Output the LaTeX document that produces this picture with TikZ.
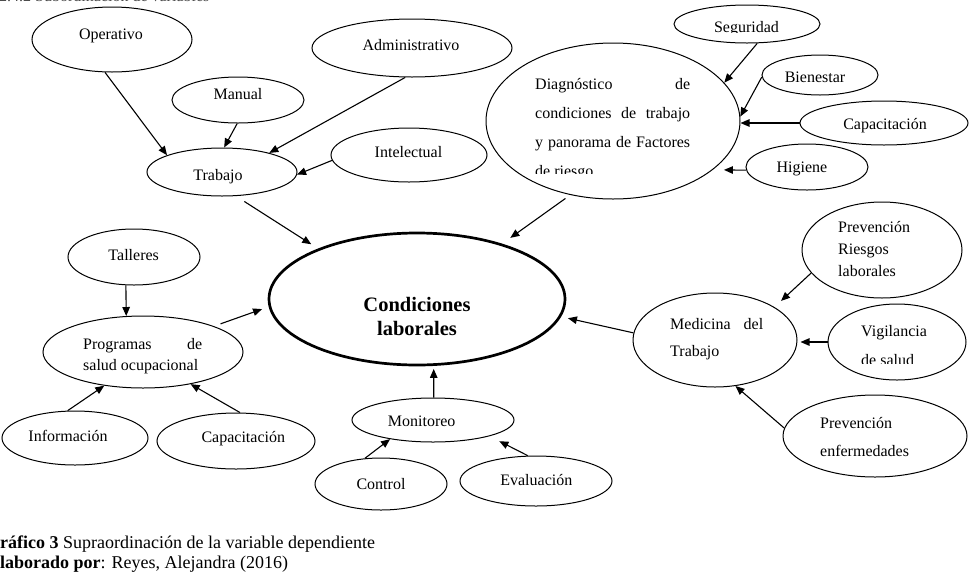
\documentclass[tikz,border=0pt]{standalone}
\usepackage{fontspec}
\setmainfont{Liberation Serif}
\usetikzlibrary{shapes.geometric,arrows.meta}

\tikzset{
  bub/.style={draw, ellipse, line width=1pt, inner sep=0pt},
  core/.style={draw, ellipse, line width=2.7pt, inner sep=0pt},
  lbl/.style={anchor=base, inner sep=0pt, font=\fontsize{16}{19}\selectfont},
  lblw/.style={anchor=base west, inner sep=0pt, font=\fontsize{16}{19}\selectfont},
  capt/.style={anchor=base west, inner sep=0pt, font=\fontsize{18}{20}\selectfont},
  arr/.style={line width=1.1pt, -{Triangle[length=9pt,width=7.5pt]}},
}

\begin{document}
\begin{tikzpicture}[x=1pt,y=-1pt]
\useasboundingbox (0,0) rectangle (969,579);

% heading line above the diagram (only its lowest part lies on the page)
\node[lblw, text=black!70] (head) at (-1,1.8) {2.4.2 Subordinación de variables};

% ---------- bubbles ----------
\node[bub, minimum width=160pt, minimum height=65pt]  (oper)   at (112,39.5) {};
\node[bub, minimum width=200pt, minimum height=58pt]  (admin)  at (412,48) {};
\node[bub, minimum width=132pt, minimum height=46pt]  (manual) at (238,100) {};
\node[bub, minimum width=150pt, minimum height=48pt]  (trab)   at (222,172) {};
\node[bub, minimum width=156pt, minimum height=54pt]  (intel)  at (409,155) {};
\node[bub, minimum width=254pt, minimum height=156pt] (diag)   at (613,121) {};
\node[bub, minimum width=146pt, minimum height=38pt]  (segur)  at (747,24) {};
\node[bub, minimum width=116pt, minimum height=40pt]  (bienes) at (820,75) {};
\node[bub, minimum width=168pt, minimum height=44pt]  (capR)   at (884,123) {};
\node[bub, minimum width=122pt, minimum height=46pt]  (higi)   at (807,167) {};
\node[core, minimum width=296pt, minimum height=132pt] (cond)  at (417,299) {};
\node[bub, minimum width=132pt, minimum height=56pt]  (talle)  at (134,257) {};
\node[bub, minimum width=200pt, minimum height=72pt]  (prog)   at (143,352) {};
\node[bub, minimum width=146pt, minimum height=54pt]  (info)   at (75,438) {};
\node[bub, minimum width=158pt, minimum height=56pt]  (capL)   at (236,441) {};
\node[bub, minimum width=162pt, minimum height=44pt]  (monit)  at (433,420) {};
\node[bub, minimum width=132pt, minimum height=52pt]  (contr)  at (381,484) {};
\node[bub, minimum width=152pt, minimum height=50pt]  (evalu)  at (536,481) {};
\node[bub, minimum width=164pt, minimum height=94pt]  (medic)  at (715,340) {};
\node[bub, minimum width=160pt, minimum height=96pt]  (prl)    at (882,250) {};
\node[bub, minimum width=138pt, minimum height=76pt]  (vigil)  at (897,342) {};
\node[bub, minimum width=184pt, minimum height=82pt]  (prevE)  at (875,436) {};

% ---------- texts ----------
\node[lbl] (tOper)   at (111,39.3)  {Operativo};
\node[lbl] (tAdmin)  at (411,50)    {Administrativo};
\node[lbl] (tManual) at (238,99.3)  {Manual};
\node[lbl] (tTrab)   at (218,180.5) {Trabajo};
\node[lbl] (tIntel)  at (408.5,157.3) {Intelectual};
\node[lbl] (tBien)   at (815,82.3)  {Bienestar};
\node[lbl] (tCapR)   at (885,129)   {Capacitación};
\node[lbl] (tHigi)   at (802,172.3) {Higiene};
\node[lbl] (tTalle)  at (133.7,260.7) {Talleres};
\node[lbl] (tInfo)   at (68,441.7)  {Información};
\node[lbl] (tCapL)   at (243.3,442.3) {Capacitación};
\node[lbl] (tMonit)  at (421.7,426.7) {Monitoreo};
\node[lbl] (tContr)  at (381,489.3) {Control};
\node[lbl] (tEval)   at (536.3,485.3) {Evaluación};

\node[lblw] (tProg) at (83,349.3)
  {\parbox[t]{119pt}{\fontsize{16}{21.3}\selectfont
   \makebox[119pt][s]{Programas de}\\salud ocupacional}};
\node[lblw] (tMedic) at (670,329.3)
  {\parbox[t]{93pt}{\fontsize{16}{27.5}\selectfont
   \makebox[93pt][s]{Medicina del}\\Trabajo}};
\node[lblw] (tPrl) at (838,232.7)
  {\parbox[t]{120pt}{\fontsize{16}{21.7}\selectfont
   Prevención\\Riesgos\\laborales}};
\node[lblw] (tPrevE) at (820,428.3)
  {\parbox[t]{130pt}{\fontsize{16}{28.4}\selectfont
   Prevención\\enfermedades}};

\node[anchor=base, inner sep=0pt] (tCond) at (417,311.7)
  {\parbox[t]{200pt}{\centering\fontsize{20.5}{23.3}\selectfont\bfseries
   Condiciones\\laborales}};

% texts whose lower edge is cut off by their frame
\begin{scope}
  \clip (680,0) rectangle (820,32.3);
  \node[lbl] (tSegur) at (746.5,32.3) {Seguridad};
\end{scope}
\begin{scope}
  \clip (500,40) rectangle (730,173.3);
  \node[lblw] (tDiag) at (535,89)
    {\parbox[t]{155pt}{\fontsize{16}{29}\selectfont
     \makebox[155pt][s]{Diagnóstico de}\\
     \makebox[155pt][s]{condiciones de trabajo}\\
     \makebox[155pt][s]{y panorama de Factores}\\
     de riesgo}};
\end{scope}
\begin{scope}
  \clip (840,310) rectangle (960,363.3);
  \node[lblw] (tVigil) at (861,336.7)
    {\parbox[t]{100pt}{\fontsize{16}{28.3}\selectfont
     Vigilancia\\de salud}};
\end{scope}

% ---------- connectors ----------
\draw[arr] (oper.258) -- (trab.163);
\draw[arr] (manual.268) -- (trab.85);
\draw[arr] (admin.257) -- (trab.22);
\draw[arr] (intel.184) -- (trab.358);
\draw[arr, shorten <=10pt, shorten >=8pt] (trab.300) -- (cond.153);

\draw[arr] (segur.298) -- (diag.19);
\draw[arr] (bienes.182) -- (diag.2);
\draw[arr] (capR.west) -- (capR.west -| diag.east);
\draw[arr, shorten >=11pt] (higi.183) -- (diag.334);
\draw[arr, shorten <=6pt, shorten >=10pt] (diag.240) -- (cond.33);

\draw[arr] (talle.254) -- (prog.115);
\draw[arr] (info.105) -- (prog.221);
\draw[arr] (capL.82) -- (prog.326);
\draw[arr, shorten <=7pt, shorten >=7pt] (prog.20) -- (cond.183);

\draw[arr] (contr.122) -- (monit.204);
\draw[arr, shorten >=11pt] (evalu.108) -- (monit.344);
\draw[arr, shorten >=3pt] (monit.88) -- (cond.284);

\draw[arr, shorten >=9pt] (prl.198) -- (medic.29);
\draw[arr, shorten >=3pt] (vigil.west) -- (vigil.west -| medic.east);
\draw[arr] (prevE.175) -- (medic.294);
\draw[arr, shorten >=7pt] (medic.175) -- (cond.353);

% ---------- caption ----------
\node[capt] (cap1) at (-14,548) {\textbf{Gráfico 3} Supraordinación de la variable dependiente};
\node[capt] (cap2) at (-12,568) {\textbf{Elaborado por}: Reyes, Alejandra (2016)};
\end{tikzpicture}
\end{document}
